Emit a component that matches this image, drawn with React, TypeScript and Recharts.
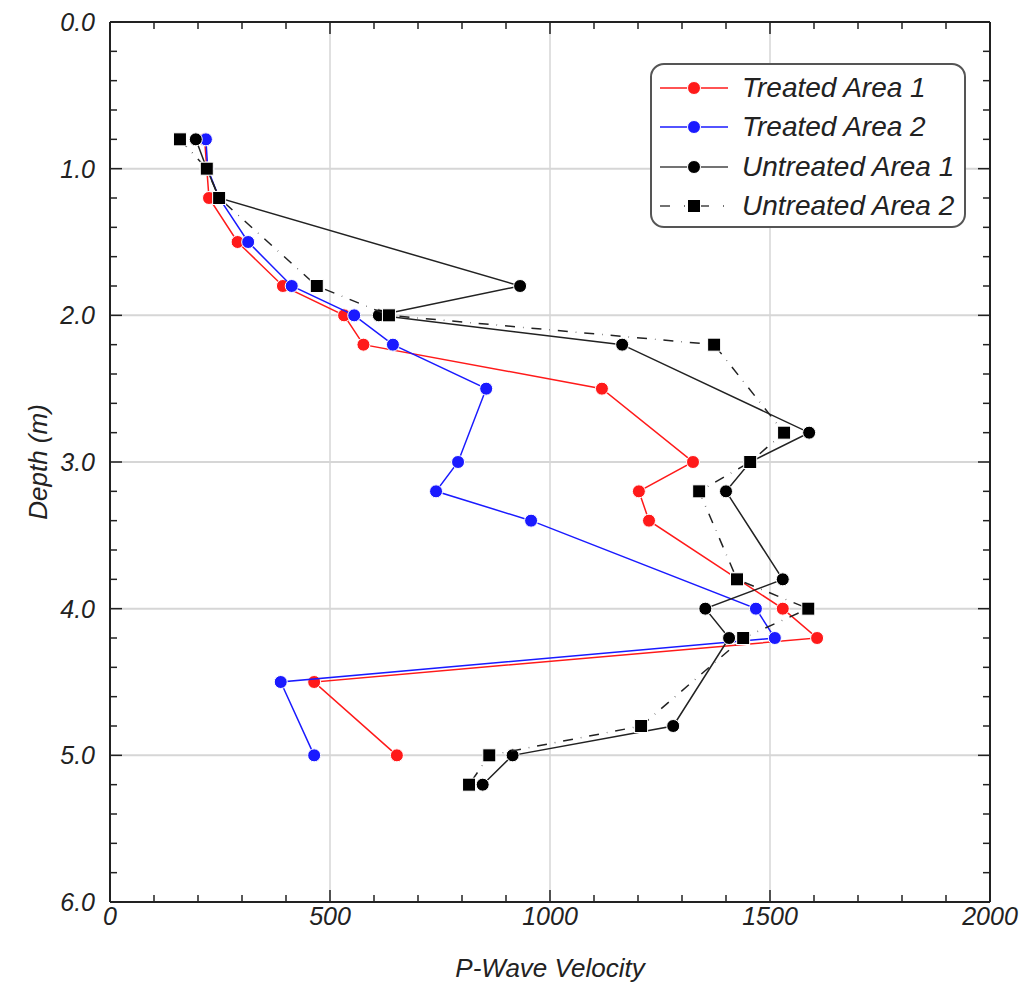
import { ScatterChart, Scatter, XAxis, YAxis, ReferenceLine } from "recharts"

// depth (m) vs p-wave velocity
const treated1Depth = [0.8, 1.0, 1.2, 1.5, 1.8, 2.0, 2.2, 2.5, 3.0, 3.2, 3.4, 4.0, 4.2, 4.5, 5.0]
const treated1Vel = [215, 220, 225, 290, 393, 532, 576, 1118, 1325, 1202, 1225, 1529, 1607, 464, 652]

const treated2Depth = [0.8, 1.0, 1.2, 1.5, 1.8, 2.0, 2.2, 2.5, 3.0, 3.2, 3.4, 4.0, 4.2, 4.5, 5.0]
const treated2Vel = [218, 222, 248, 314, 413, 555, 643, 855, 791, 741, 957, 1468, 1511, 388, 464]

const untreated1Depth = [0.8, 1.0, 1.2, 1.8, 2.0, 2.2, 2.8, 3.0, 3.2, 3.8, 4.0, 4.2, 4.8, 5.0, 5.2]
const untreated1Vel = [195, 220, 248, 932, 611, 1164, 1589, 1455, 1400, 1529, 1353, 1407, 1280, 915, 847]

const untreated2Depth = [0.8, 1.0, 1.2, 1.8, 2.0, 2.2, 2.8, 3.0, 3.2, 3.8, 4.0, 4.2, 4.8, 5.0, 5.2]
const untreated2Vel = [159, 220, 248, 470, 634, 1373, 1532, 1455, 1339, 1425, 1587, 1439, 1207, 862, 816]

const xTicks = [0, 100, 200, 300, 400, 500, 600, 700, 800, 900, 1000, 1100, 1200, 1300, 1400, 1500, 1600, 1700, 1800, 1900, 2000]
const xLabels = [0, 500, 1000, 1500, 2000]
const yTicks = [0, 0.2, 0.4, 0.6, 0.8, 1, 1.2, 1.4, 1.6, 1.8, 2, 2.2, 2.4, 2.6, 2.8, 3, 3.2, 3.4, 3.6, 3.8, 4, 4.2, 4.4, 4.6, 4.8, 5, 5.2, 5.4, 5.6, 5.8, 6]
const yLabels = [0, 1, 2, 3, 4, 5, 6]
const xGrid = [500, 1000, 1500]
const yGrid = [1, 2, 3, 4, 5]

const toPoints = (depth: number[], vel: number[]) => depth.map((d, i) => ({ v: vel[i], d }))

const series = [
  { name: "Treated Area 1", data: toPoints(treated1Depth, treated1Vel), color: "#ff1a1a", marker: "circle", dash: undefined },
  { name: "Treated Area 2", data: toPoints(treated2Depth, treated2Vel), color: "#1a1aff", marker: "circle", dash: undefined },
  { name: "Untreated Area 1", data: toPoints(untreated1Depth, untreated1Vel), color: "#222", marker: "circle", dash: undefined },
  { name: "Untreated Area 2", data: toPoints(untreated2Depth, untreated2Vel), color: "#222", marker: "square", dash: "10 8 0.5 8" },
]

const W = 1030
const H = 985
const M = { top: 22, right: 40, bottom: 33, left: 0 }
const PLOT_W = 880
const PLOT_H = 880
const font = "'Liberation Sans', Arial, sans-serif"

function Marker({ cx, cy, kind, color }: any) {
  if (cx == null || cy == null) return null
  if (kind === "square") {
    return <rect x={cx - 6.5} y={cy - 6.5} width={13} height={13} fill="#000" stroke="#fff" strokeWidth={1} />
  }
  return <circle cx={cx} cy={cy} r={6.5} fill={color === "#222" ? "#000" : color} stroke="#fff" strokeWidth={1} />
}

function XTick({ x, y, payload }: any) {
  const major = xLabels.includes(payload.value)
  const len = major ? 12 : 7
  return (
    <g>
      <line x1={x} y1={y} x2={x} y2={y - len} stroke="#222" strokeWidth={1.5} />
      <line x1={x} y1={y - PLOT_H} x2={x} y2={y - PLOT_H + len} stroke="#222" strokeWidth={1.5} />
      {major && (
        <text x={x} y={y + 23} textAnchor="middle" fontSize={25} fontStyle="italic" fill="#222" fontFamily={font}>
          {payload.value}
        </text>
      )}
    </g>
  )
}

function YTick({ x, y, payload }: any) {
  const major = yLabels.some((l) => Math.abs(l - payload.value) < 1e-6)
  const len = major ? 12 : 7
  return (
    <g>
      <line x1={x} y1={y} x2={x + len} y2={y} stroke="#222" strokeWidth={1.5} />
      <line x1={x + PLOT_W} y1={y} x2={x + PLOT_W - len} y2={y} stroke="#222" strokeWidth={1.5} />
      {major && (
        <text x={x - 15} y={y + 9} textAnchor="end" fontSize={25} fontStyle="italic" fill="#222" fontFamily={font}>
          {payload.value.toFixed(1)}
        </text>
      )}
    </g>
  )
}

function LegendBox() {
  return (
    <div
      style={{
        position: "absolute",
        left: 650,
        top: 63,
        width: 316,
        height: 165,
        border: "2px solid #555",
        borderRadius: 14,
        background: "#fff",
        boxSizing: "border-box",
        paddingTop: 3,
        fontFamily: font,
      }}
    >
      {series.map((s) => (
        <div key={s.name} style={{ display: "flex", alignItems: "center", height: 39.5 }}>
          <svg width={84} height={20} style={{ marginLeft: 6 }}>
            <line x1={2} y1={10} x2={70} y2={10} stroke={s.color === "#222" ? "#444" : s.color} strokeWidth={1.5} strokeDasharray={s.dash ? "10 14 1 14" : undefined} />
            <Marker cx={36} cy={10} kind={s.marker} color={s.color} />
          </svg>
          <span style={{ fontSize: 28, fontStyle: "italic", color: "#222", whiteSpace: "nowrap" }}>{s.name}</span>
        </div>
      ))}
    </div>
  )
}

export default function App() {
  return (
    <div style={{ position: "absolute", left: 0, top: 0, width: W, height: H, background: "#fff" }}>
      <ScatterChart width={W} height={H} margin={M}>
        <XAxis
          type="number"
          dataKey="v"
          domain={[0, 2000]}
          ticks={xTicks}
          interval={0}
          tickSize={0}
          tickMargin={0}
          tick={<XTick />}
          height={50}
          stroke="#222"
          strokeWidth={2}
          label={({ viewBox }: any) => (
            <text x={viewBox.x + viewBox.width / 2} y={viewBox.y + 75} textAnchor="middle" fontSize={26} fontStyle="italic" fill="#222" fontFamily={font}>
              P-Wave Velocity
            </text>
          )}
        />
        <YAxis
          type="number"
          dataKey="d"
          domain={[0, 6]}
          reversed
          ticks={yTicks}
          interval={0}
          tickSize={0}
          tickMargin={0}
          tick={<YTick />}
          width={110}
          stroke="#222"
          strokeWidth={2}
          label={({ viewBox }: any) => (
            <text
              x={38}
              y={viewBox.y + viewBox.height / 2}
              transform={`rotate(-90, 38, ${viewBox.y + viewBox.height / 2})`}
              textAnchor="middle"
              fontSize={26}
              fontStyle="italic"
              fill="#222"
              fontFamily={font}
              dy={9}
            >
              Depth (m)
            </text>
          )}
        />
        {xGrid.map((g) => (
          <ReferenceLine key={`gx${g}`} x={g} stroke="#d6d6d6" strokeWidth={1.5} />
        ))}
        {yGrid.map((g) => (
          <ReferenceLine key={`gy${g}`} y={g} stroke="#d6d6d6" strokeWidth={2} />
        ))}
        <ReferenceLine y={0} stroke="#222" strokeWidth={2} />
        <ReferenceLine x={2000} stroke="#222" strokeWidth={2} />
        {series.map((s) => (
          <Scatter
            key={s.name}
            name={s.name}
            data={s.data}
            line={{ stroke: s.color, strokeWidth: 1.5, strokeDasharray: s.dash }}
            lineType="joint"
            shape={(p: any) => <Marker cx={p.cx} cy={p.cy} kind={s.marker} color={s.color} />}
            isAnimationActive={false}
          />
        ))}
      </ScatterChart>
      <LegendBox />
    </div>
  )
}
